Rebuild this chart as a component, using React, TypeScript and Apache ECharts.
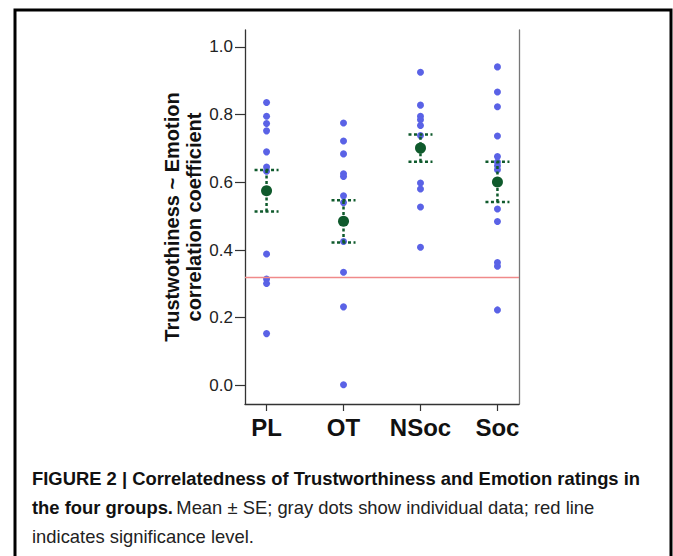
import React, { useEffect, useRef } from "react";
import * as echarts from "echarts";

const categories = ["PL", "OT", "NSoc", "Soc"];
const plValues = [0.836, 0.795, 0.774, 0.752, 0.69, 0.645, 0.633, 0.388, 0.314, 0.301, 0.153];
const otValues = [0.775, 0.722, 0.684, 0.625, 0.617, 0.56, 0.54, 0.425, 0.334, 0.232, 0.002];
const nsocValues = [0.925, 0.828, 0.795, 0.785, 0.768, 0.738, 0.598, 0.58, 0.527, 0.408];
const socValues = [0.941, 0.867, 0.823, 0.737, 0.676, 0.66, 0.649, 0.637, 0.521, 0.484, 0.363, 0.352, 0.223];
const means = [0.575, 0.485, 0.701, 0.601];
const seLower = [0.514, 0.422, 0.661, 0.542];
const seUpper = [0.636, 0.547, 0.741, 0.661];
const significance = 0.324;
const yTicks = [0, 0.2, 0.4, 0.6, 0.8, 1.0];

const BLUE = "#5a62e6";
const GREEN = "#0f5a2c";
const CAPTION_FONT = "Liberation Sans, Arial, sans-serif";

export default function App() {
  const ref = useRef<HTMLDivElement>(null);
  useEffect(() => {
    if (!ref.current) return;
    const chart = echarts.init(ref.current, null, { renderer: "svg" });
    const groups = [plValues, otValues, nsocValues, socValues];
    const pointData: number[][] = [];
    groups.forEach((g, i) => g.forEach((v) => pointData.push([i + 1, v])));
    const errData = categories.map((_, i) => [i + 1, seLower[i], seUpper[i]]);
    const meanData = categories.map((_, i) => [i + 1, means[i]]);
    const tickPos = categories.map((_, i) => i + 1);

    chart.setOption({
      animation: false,
      backgroundColor: "#ffffff",
      grid: { left: 245, right: 154, top: 30, bottom: 152, containLabel: false },
      xAxis: {
        type: "value",
        min: 0.72,
        max: 4.28,
        splitLine: { show: false },
        axisLine: { show: true, onZero: false, lineStyle: { color: "#333", width: 1.3 } },
        axisTick: { show: true, length: 7, customValues: tickPos, lineStyle: { color: "#333", width: 1.2 } },
        axisLabel: {
          customValues: tickPos,
          formatter: (v: number) => categories[Math.round(v) - 1] ?? "",
          fontFamily: "Liberation Sans, Arial, sans-serif",
          fontWeight: "bold",
          fontSize: 24,
          color: "#111",
          margin: 11,
        },
      },
      yAxis: [
        {
          type: "value",
          min: -0.055,
          max: 1.05,
          splitLine: { show: false },
          axisLine: { show: true, onZero: false, lineStyle: { color: "#333", width: 1.3 } },
          axisTick: { show: true, length: 10, customValues: yTicks, lineStyle: { color: "#333", width: 1.2 } },
          axisLabel: {
            customValues: yTicks,
            formatter: (v: number) => v.toFixed(1),
            fontFamily: "Liberation Sans, Arial, sans-serif",
            fontSize: 17,
            color: "#222",
            margin: 12,
          },
          name: "Trustwothiness ~ Emotion\ncorrelation coefficient",
          nameLocation: "middle",
          nameRotate: 90,
          nameGap: 40,
          nameTextStyle: {
            fontFamily: "Liberation Sans, Arial, sans-serif",
            fontWeight: "bold",
            fontSize: 20,
            lineHeight: 22,
            color: "#111",
          },
        },
        {
          type: "value",
          position: "right",
          min: -0.055,
          max: 1.05,
          splitLine: { show: false },
          axisLine: { show: true, onZero: false, lineStyle: { color: "#777", width: 1.3 } },
          axisTick: { show: false },
          axisLabel: { show: false },
        },
      ],
      series: [
        {
          type: "scatter",
          data: pointData,
          symbol: "circle",
          symbolSize: 7,
          itemStyle: { color: BLUE, opacity: 1 },
          markLine: {
            silent: true,
            symbol: ["none", "none"],
            label: { show: false },
            lineStyle: { color: "#f08a8a", width: 1.3, type: "solid" },
            data: [{ yAxis: significance }],
          },
          z: 2,
        },
        {
          type: "custom",
          data: errData,
          encode: { x: 0, y: [1, 2] },
          z: 3,
          renderItem: (params: any, api: any) => {
            const x = api.value(0);
            const lo = api.coord([x, api.value(1)]);
            const hi = api.coord([x, api.value(2)]);
            const style = { stroke: GREEN, lineWidth: 2.5, lineDash: [3, 2.5], fill: null };
            const cap = 12;
            return {
              type: "group",
              children: [
                { type: "line", shape: { x1: lo[0], y1: lo[1], x2: hi[0], y2: hi[1] }, style },
                { type: "line", shape: { x1: lo[0] - cap, y1: lo[1], x2: lo[0] + cap, y2: lo[1] }, style },
                { type: "line", shape: { x1: hi[0] - cap, y1: hi[1], x2: hi[0] + cap, y2: hi[1] }, style },
              ],
            };
          },
        },
        {
          type: "scatter",
          data: meanData,
          symbol: "circle",
          symbolSize: 11,
          itemStyle: { color: GREEN, opacity: 1 },
          z: 4,
        },
      ],
      graphic: [
        {
          type: "polyline",
          shape: { points: [[15, 570], [15, 10], [671, 10], [671, 570]] },
          style: { stroke: "#000", lineWidth: 3, fill: null },
          silent: true,
        },
        {
          type: "text",
          left: 32,
          top: 469,
          style: {
            text: "FIGURE 2 | Correlatedness of Trustworthiness and Emotion ratings in",
            fontFamily: CAPTION_FONT,
            fontWeight: "bold",
            fontSize: 18.4,
            fill: "#111",
          },
        },
        {
          type: "text",
          left: 32,
          top: 498,
          style: {
            text: "{b|the four groups.} {r|Mean ± SE; gray dots show individual data; red line}",
            rich: {
              b: { fontFamily: CAPTION_FONT, fontWeight: "bold", fontSize: 18.4, fill: "#111" },
              r: { fontFamily: CAPTION_FONT, fontSize: 18.4, fill: "#222" },
            },
          },
        },
        {
          type: "text",
          left: 32,
          top: 527,
          style: {
            text: "indicates significance level.",
            fontFamily: CAPTION_FONT,
            fontSize: 18.4,
            fill: "#222",
          },
        },
      ],
    });
    return () => chart.dispose();
  }, []);
  return (
    <div
      ref={ref}
      style={{ position: "fixed", left: 0, top: 0, width: 673, height: 556, background: "#fff" }}
    />
  );
}
